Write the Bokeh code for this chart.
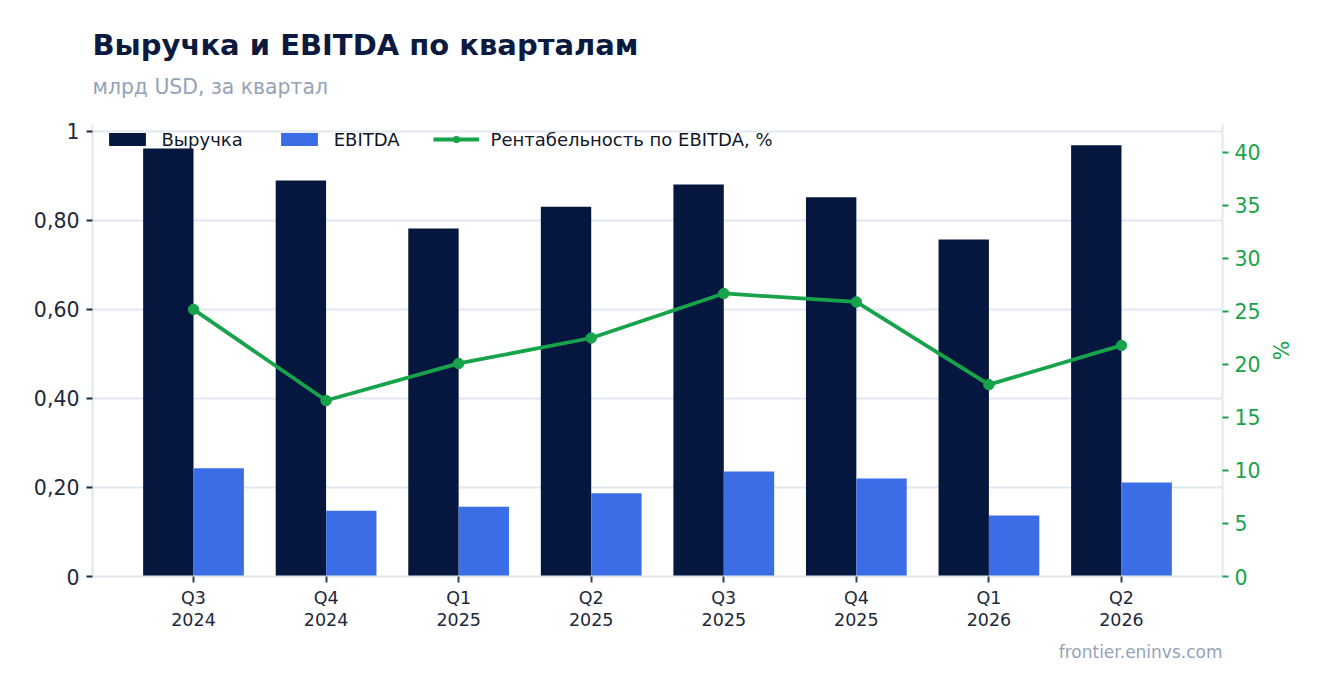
from bokeh.plotting import figure
from bokeh.models import (Range1d, LinearAxis, FixedTicker, CustomJSTickFormatter,
                          Title, Legend, ColumnDataSource, FactorRange)
from bokeh.transform import dodge
from bokeh.embed import file_html
from bokeh.resources import INLINE

quarters = ["Q3\n2024", "Q4\n2024", "Q1\n2025", "Q2\n2025",
            "Q3\n2025", "Q4\n2025", "Q1\n2026", "Q2\n2026"]
revenue = [0.962, 0.890, 0.782, 0.831, 0.881, 0.852, 0.757, 0.969]
ebitda = [0.243, 0.148, 0.157, 0.187, 0.236, 0.220, 0.137, 0.211]
margin = [25.2, 16.6, 20.1, 22.5, 26.7, 25.9, 18.1, 21.8]
left_ticks = [0, 0.2, 0.4, 0.6, 0.8, 1.0]
right_ticks = [0, 5, 10, 15, 20, 25, 30, 35, 40]

NAVY = "#05173f"
BLUE = "#3b6ee6"
GREEN = "#16a34a"
GRID = "#e2e8f0"
TXT = "#1e293b"
MUTED = "#94a3b8"
FONT = "DejaVu Sans"

src = ColumnDataSource(dict(q=quarters, rev=revenue, ebt=ebitda, mar=margin))

p = figure(width=1307, height=680, output_backend="svg", toolbar_location=None,
           x_range=FactorRange(*quarters, range_padding=0.262, range_padding_units="absolute"),
           y_range=Range1d(0, 1.0157), title=None,
           min_border_left=92, min_border_right=85, min_border_top=124, min_border_bottom=104)
p.extra_y_ranges = {"pct": Range1d(0, 42.64)}
p.outline_line_color = None
p.background_fill_color = "white"
p.border_fill_color = "white"

r_rev = p.vbar(x=dodge("q", -0.19, range=p.x_range), top="rev", width=0.38, source=src,
               fill_color=NAVY, line_color=None)
r_ebt = p.vbar(x=dodge("q", 0.19, range=p.x_range), top="ebt", width=0.38, source=src,
               fill_color=BLUE, line_color=None)
r_line = p.line(x="q", y="mar", source=src, y_range_name="pct", line_color=GREEN, line_width=3.8)
r_dot = p.scatter(x="q", y="mar", source=src, y_range_name="pct", size=10.5,
                  fill_color=GREEN, line_color=GREEN)

# grids
p.xgrid.grid_line_color = None
p.ygrid.grid_line_color = GRID
p.ygrid.grid_line_width = 2
p.ygrid.ticker = FixedTicker(ticks=left_ticks)

# left axis
ya = p.yaxis[0]
ya.ticker = FixedTicker(ticks=left_ticks)
ya.formatter = CustomJSTickFormatter(code="""
if (Math.abs(tick) < 1e-9) return "0";
if (Math.abs(tick - 1) < 1e-9) return "1";
return tick.toFixed(2).replace('.', ',');
""")
ya.axis_line_color = GRID
ya.axis_line_width = 2
ya.major_tick_line_color = TXT
ya.major_tick_line_width = 2
ya.major_tick_out = 6
ya.major_tick_in = 0
ya.minor_tick_line_color = None
ya.major_label_text_color = TXT
ya.major_label_text_font = FONT
ya.major_label_text_font_size = "20.5px"
ya.major_label_standoff = 7

# x axis
xa = p.xaxis[0]
xa.axis_line_color = GRID
xa.axis_line_width = 2
xa.major_tick_line_color = "#334155"
xa.major_tick_line_width = 2
xa.major_tick_out = 6
xa.major_tick_in = 0
xa.major_label_text_color = TXT
xa.major_label_text_font = FONT
xa.major_label_text_font_size = "17.5px"
xa.major_label_text_line_height = 1.1
xa.major_label_standoff = 5

# right axis
ra = LinearAxis(y_range_name="pct", ticker=FixedTicker(ticks=right_ticks), axis_label="%")
ra.axis_line_color = GRID
ra.axis_line_width = 2
ra.major_tick_line_color = GREEN
ra.major_tick_line_width = 2
ra.major_tick_out = 6
ra.major_tick_in = 0
ra.minor_tick_line_color = None
ra.major_label_text_color = GREEN
ra.major_label_text_font = FONT
ra.major_label_text_font_size = "20.5px"
ra.major_label_standoff = 6
ra.axis_label_text_color = GREEN
ra.axis_label_text_font = FONT
ra.axis_label_text_font_size = "20.5px"
ra.axis_label_text_font_style = "normal"
ra.axis_label_standoff = 4
p.add_layout(ra, "right")

# legend
legend = Legend(items=[("Выручка", [r_rev]), ("EBITDA", [r_ebt]),
                       ("Рентабельность по EBITDA, %", [r_line, r_dot])],
                orientation="horizontal", location=(11.5, 426))
legend.margin = 0
legend.padding = 0
legend.spacing = 33
legend.label_standoff = 12
legend.glyph_width = 46
legend.glyph_height = 16
legend.label_height = 22
legend.label_text_font = FONT
legend.label_text_font_size = "18px"
legend.label_text_color = "#0f172a"
legend.border_line_color = None
legend.background_fill_alpha = 0
legend.inactive_fill_alpha = 0
p.add_layout(legend, "center")

# titles (first added = closest to frame)
sub = Title(text="млрд USD, за квартал", text_font=FONT, text_font_size="20.4px",
            text_font_style="normal", text_color=MUTED, align="left", standoff=52)
ttl = Title(text="Выручка и EBITDA по кварталам", text_font=FONT, text_font_size="29px",
            text_font_style="bold", text_color="#0b1a3e", align="left", standoff=-30)
p.add_layout(sub, "above")
p.add_layout(ttl, "above")

foot = Title(text="frontier.eninvs.com", text_font=FONT, text_font_size="17px",
             text_font_style="normal", text_color=MUTED, align="right", standoff=14)
p.add_layout(foot, "below")

open("out.html", "w").write(file_html(p, INLINE))
